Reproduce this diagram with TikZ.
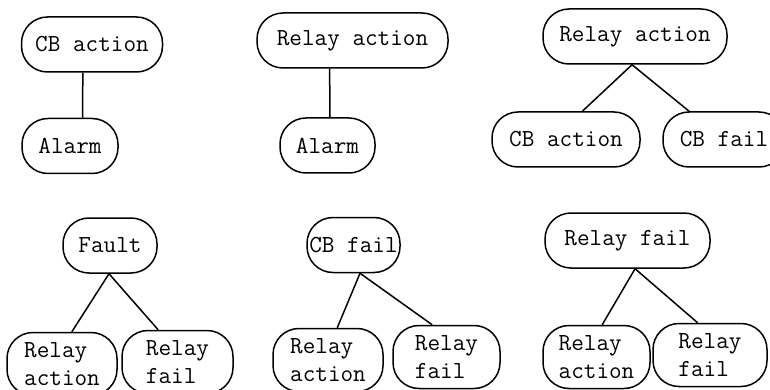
\documentclass[tikz,border=0pt]{standalone}
\begin{document}
\begin{tikzpicture}[x=1pt,y=-1pt,line width=1.5pt,
 ev/.style={draw,rounded corners=26pt,inner xsep=2pt,inner ysep=4pt,minimum width=#1,minimum height=55pt,
  font=\ttfamily\fontsize{24.5}{28}\selectfont},
 evtwo/.style={ev=#1,minimum height=63pt,align=left}]
 \useasboundingbox (0,0) rectangle (770,390);
 % top row
 \node[ev=141pt] (cbA) at (92,44.5) {CB action};
 \node[ev=96pt] (alA) at (70,146) {Alarm};
 \draw (cbA.252)--(alA.66);
 \node[ev=191pt] (raB) at (352.5,40.5) {Relay action};
 \node[ev=95pt] (alB) at (327.5,145.5) {Alarm};
 \draw (raB.231)--(alB.85);
 \node[ev=184pt] (raC) at (635,36.5) {Relay action};
 \node[ev=148pt] (caC) at (566,139.5) {CB action};
 \node[ev=122pt] (cfC) at (724,139.5) {CB fail};
 \draw (raC.264)--(caC.60);
 \draw (raC.264)--(cfC.141);
 % bottom row
 \node[ev=94pt] (faD) at (110,245.5) {Fault};
 \node[evtwo=110pt] (raD) at (62,364) {Relay\\action};
 \node[evtwo=111pt] (rfD) at (177.5,362) {Relay\\fail};
 \draw (faD.268)--(raD.73);
 \draw (faD.268)--(rfD.121);
 \node[ev=93pt] (cfE) at (353.5,245) {CB fail};
 \node[evtwo=110pt] (raE) at (328,360) {Relay\\action};
 \node[evtwo=107pt] (rfE) at (446.5,357) {Relay\\fail};
 \draw (cfE.283)--(raE.74);
 \draw (cfE.283)--(rfE.114);
 \node[ev=165pt] (rfF) at (627.5,240.5) {Relay fail};
 \node[evtwo=107pt] (raF) at (596.5,357) {Relay\\action};
 \node[evtwo=114pt] (rfG) at (710,355) {Relay\\fail};
 \draw (rfF.285)--(raF.80);
 \draw (rfF.285)--(rfG.111);
\end{tikzpicture}
\end{document}
